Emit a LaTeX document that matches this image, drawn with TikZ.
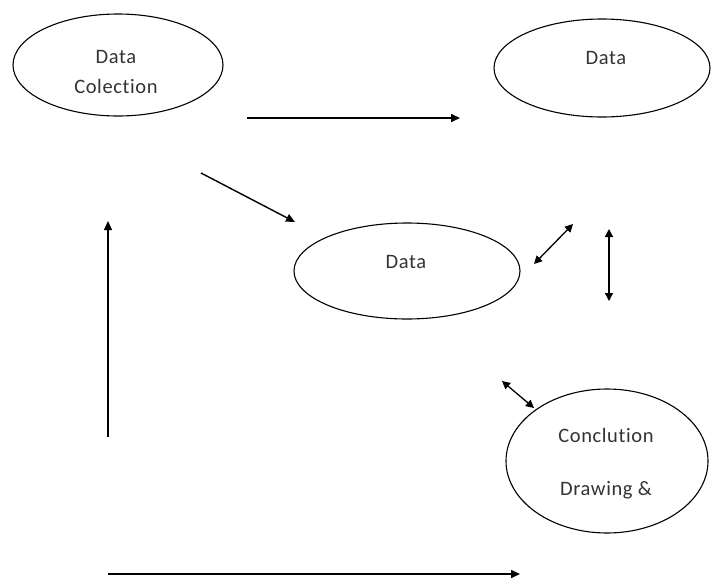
\documentclass[tikz,border=0pt]{standalone}
\usepackage{fontspec}
\setmainfont{Carlito}[Ligatures=NoCommon,LetterSpace=3]
\usetikzlibrary{arrows.meta}
\begin{document}
\begin{tikzpicture}[x=1pt,y=-1pt,
  lbl/.style={font=\fontsize{20.5}{24}\selectfont,text=black!80},
  arr/.style={line width=1.6pt,-{Triangle[length=9pt,width=8pt]}},
  darr/.style={line width=1.6pt,{Triangle[length=8pt,width=8pt]}-{Triangle[length=8pt,width=8pt]}}]
\useasboundingbox (0,0) rectangle (712,581);
% ellipses
\draw[line width=1.1pt] (118,65) ellipse [x radius=105, y radius=51];
\draw[line width=1.1pt] (602,68) ellipse [x radius=108, y radius=49];
\draw[line width=1.1pt] (407,271) ellipse [x radius=113, y radius=48];
\draw[line width=1.1pt] (607,461) ellipse [x radius=101, y radius=72];
% labels
\node[lbl] (dc1) at (116,57) {Data};
\node[lbl] (dc2) at (116,86) {Colection};
\node[lbl] (d2) at (606,58) {Data};
\node[lbl] (d3) at (406,262) {Data};
\node[lbl] (c1) at (606,435) {Conclution};
\node[lbl] (c2) at (606,490) {Drawing \&};
% connector end points
\coordinate (a1) at (247,118); \coordinate (a2) at (460,118);
\coordinate (b1) at (201,173); \coordinate (b2) at (295,222);
\coordinate (c1a) at (534,264); \coordinate (c1b) at (573,224);
\coordinate (v1) at (609,229); \coordinate (v2) at (609,301);
\coordinate (s1) at (502,381); \coordinate (s2) at (534,408);
\coordinate (l1) at (108,437); \coordinate (l2) at (108,221);
\coordinate (h1) at (108,574); \coordinate (h2) at (520,574);
\draw[arr] (a1) -- (a2);
\draw[arr,line width=1.4pt] (b1) -- (b2);
\draw[darr,line width=1.3pt] (c1a) -- (c1b);
\draw[darr,line width=1.3pt] (v1) -- (v2);
\draw[darr,line width=1.3pt] (s1) -- (s2);
\draw[arr,line width=1.3pt] (l1) -- (l2);
\draw[arr] (h1) -- (h2);
\end{tikzpicture}
\end{document}
